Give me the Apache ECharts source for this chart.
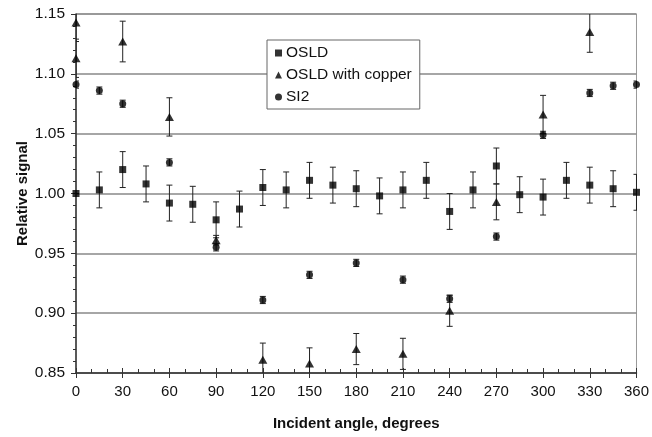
<!DOCTYPE html>
<html>
<head>
<meta charset="utf-8">
<script src="https://cdn.jsdelivr.net/npm/echarts@6/dist/echarts.min.js"></script>
<style>
  html, body { margin: 0; padding: 0; background: #fff; }
  #chart { width: 652px; height: 437px; }
</style>
</head>
<body>
<div id="chart"></div>
<script>
// OSLD (squares)
const osldAngles = [0, 15, 30, 45, 60, 75, 90, 105, 120, 135, 150, 165, 180, 195, 210, 225, 240, 255, 270, 285, 300, 315, 330, 345, 360]
const osldValues = [1.000, 1.003, 1.020, 1.008, 0.992, 0.991, 0.978, 0.987, 1.005, 1.003, 1.011, 1.007, 1.004, 0.998, 1.003, 1.011, 0.985, 1.003, 1.023, 0.999, 0.997, 1.011, 1.007, 1.004, 1.001]
const osldErr = [0.000, 0.015, 0.015, 0.015, 0.015, 0.015, 0.015, 0.015, 0.015, 0.015, 0.015, 0.015, 0.015, 0.015, 0.015, 0.015, 0.015, 0.015, 0.015, 0.015, 0.015, 0.015, 0.015, 0.015, 0.015]

// OSLD with copper (triangles)
const copperAngles = [0, 0, 30, 60, 90, 120, 150, 180, 210, 240, 270, 300, 330]
const copperValues = [1.143, 1.113, 1.127, 1.064, 0.961, 0.861, 0.858, 0.870, 0.866, 0.902, 0.993, 1.066, 1.135]
const copperErr = [0.016, 0.016, 0.017, 0.016, 0.004, 0.014, 0.013, 0.013, 0.013, 0.013, 0.015, 0.016, 0.017]

// SI2 (circles)
const si2Angles = [0, 15, 30, 60, 90, 120, 150, 180, 210, 240, 270, 300, 330, 345, 360]
const si2Values = [1.091, 1.086, 1.075, 1.026, 0.955, 0.911, 0.932, 0.942, 0.928, 0.912, 0.964, 1.049, 1.084, 1.090, 1.091]
const si2Err = [0.003, 0.003, 0.003, 0.003, 0.003, 0.003, 0.003, 0.003, 0.003, 0.003, 0.003, 0.003, 0.003, 0.003, 0.003]

const xTicks = [0, 30, 60, 90, 120, 150, 180, 210, 240, 270, 300, 330, 360]
const yTicks = [0.85, 0.90, 0.95, 1.00, 1.05, 1.10, 1.15]

const font = '"Liberation Sans", Arial, sans-serif'

function points(xs, ys) {
  return xs.map((x, i) => [x, ys[i]])
}

function errRows(xs, ys, es) {
  return xs.map((x, i) => [x, ys[i] - es[i], ys[i] + es[i]])
}

function errorBars(rows) {
  return {
    type: 'custom',
    data: rows,
    z: 3,
    clip: true,
    silent: true,
    renderItem(params, api) {
      const lo = api.coord([api.value(0), api.value(1)])
      const hi = api.coord([api.value(0), api.value(2)])
      const hw = 3
      const style = { stroke: '#222', lineWidth: 1 }
      return {
        type: 'group',
        children: [
          { type: 'line', shape: { x1: lo[0], y1: lo[1], x2: hi[0], y2: hi[1] }, style },
          { type: 'line', shape: { x1: lo[0] - hw, y1: lo[1], x2: lo[0] + hw, y2: lo[1] }, style },
          { type: 'line', shape: { x1: hi[0] - hw, y1: hi[1], x2: hi[0] + hw, y2: hi[1] }, style },
        ],
      }
    },
  }
}

const baseX = {
  type: 'value',
  min: 0,
  max: 360,
  interval: 30,
}
const baseY = {
  type: 'value',
  min: 0.85,
  max: 1.15,
  interval: 0.05,
}

const chart = echarts.init(document.getElementById('chart'))
chart.setOption({
  animation: false,
  backgroundColor: '#fff',
  textStyle: { fontFamily: font },
  grid: {
    left: 76, right: 13, top: 14, bottom: 64,
    show: true, borderColor: '#999', borderWidth: 1,
  },
  legend: {
    data: ['OSLD', 'OSLD with copper', 'SI2'],
    orient: 'vertical',
    left: 267,
    top: 40,
    width: 150,
    backgroundColor: '#fff',
    borderColor: '#666',
    borderWidth: 1,
    borderRadius: 0,
    padding: [5, 8, 4, 8],
    itemGap: 6,
    itemWidth: 7,
    itemHeight: 7,
    textStyle: { fontSize: 15.5, color: '#111', fontFamily: font, padding: [0, 0, 0, -1] },
  },
  xAxis: [
    {
      ...baseX,
      name: 'Incident angle, degrees',
      nameLocation: 'middle',
      nameGap: 43,
      nameTextStyle: { fontSize: 15, fontWeight: 'bold', color: '#111', fontFamily: font },
      axisLine: { onZero: false, lineStyle: { color: '#333', width: 1.5 } },
      axisTick: { show: true, inside: false, length: 5, lineStyle: { color: '#333' } },
      axisLabel: {
        margin: 11, fontSize: 15, color: '#111', fontFamily: font,
        formatter: (v) => (xTicks.includes(v) ? String(v) : ''),
      },
      splitLine: { show: false },
    },
    {
      ...baseX,
      position: 'bottom',
      axisLine: { show: false },
      axisTick: { show: true, inside: true, length: 5, lineStyle: { color: '#333' } },
      minorTick: { show: true, splitNumber: 3, length: 4, lineStyle: { color: '#333' } },
      axisLabel: { show: false },
      splitLine: { show: false },
    },
  ],
  yAxis: [
    {
      ...baseY,
      name: 'Relative signal',
      nameLocation: 'middle',
      nameGap: 46,
      nameMoveOverlap: false,
      nameTextStyle: { fontSize: 15, fontWeight: 'bold', color: '#111', fontFamily: font },
      axisLine: { onZero: false, lineStyle: { color: '#333', width: 1.5 } },
      axisTick: { show: true, inside: false, length: 5, lineStyle: { color: '#333' } },
      minorTick: { show: true, splitNumber: 5, length: 3, lineStyle: { color: '#333' } },
      axisLabel: {
        margin: 11, fontSize: 15.5, color: '#111', fontFamily: font,
        formatter: (v) => {
          const t = yTicks.find((k) => Math.abs(k - v) < 1e-6)
          return t === undefined ? '' : t.toFixed(2)
        },
      },
      splitLine: { show: true, lineStyle: { color: '#888', width: 1.5 } },
    },
    {
      ...baseY,
      position: 'left',
      axisLine: { show: false },
      axisTick: { show: false },
      minorTick: { show: true, splitNumber: 5, length: 3, lineStyle: { color: '#333' } },
      axisLabel: { show: false },
      splitLine: { show: false },
    },
  ],
  series: [
    errorBars(errRows(osldAngles, osldValues, osldErr)),
    errorBars(errRows(copperAngles, copperValues, copperErr)),
    errorBars(errRows(si2Angles, si2Values, si2Err)),
    {
      name: 'OSLD',
      type: 'scatter',
      symbol: 'rect',
      symbolSize: 7,
      itemStyle: { color: '#000' },
      z: 5,
      data: points(osldAngles, osldValues),
    },
    {
      name: 'OSLD with copper',
      type: 'scatter',
      symbol: 'triangle',
      symbolSize: [9, 8],
      itemStyle: { color: '#000' },
      z: 5,
      data: points(copperAngles, copperValues),
    },
    {
      name: 'SI2',
      type: 'scatter',
      symbol: 'circle',
      symbolSize: 7,
      itemStyle: { color: '#000' },
      z: 5,
      data: points(si2Angles, si2Values),
    },
  ],
})
</script>
</body>
</html>
